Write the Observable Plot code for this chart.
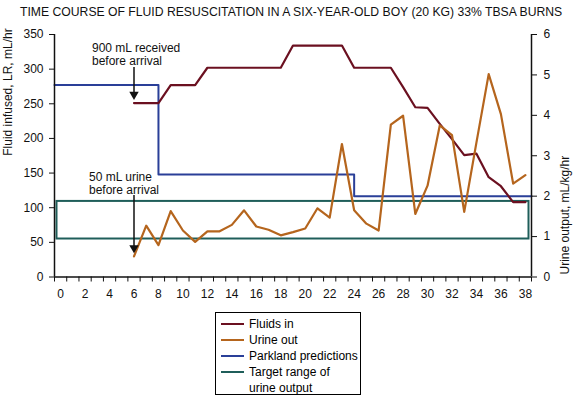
<!DOCTYPE html>
<html><head><meta charset="utf-8">
<script src="https://cdn.jsdelivr.net/npm/d3@7"></script>
<script src="https://cdn.jsdelivr.net/npm/@observablehq/plot@0.6"></script>
<style>
body{margin:0;background:#fff;font-family:"Liberation Sans",Arial,sans-serif;}
#wrap{position:relative;width:574px;height:399px;overflow:hidden;}
#title{position:absolute;left:20px;top:5px;font-size:12px;white-space:nowrap;color:#111;}
#legend{position:absolute;left:215px;top:312px;width:146px;height:83px;border:1.5px solid #000;font-size:12px;padding-top:3px;box-sizing:border-box;}
.row{height:16px;line-height:16px;display:flex;align-items:center;white-space:nowrap;}
.sw{width:23px;height:2.5px;margin-left:5px;margin-right:5px;flex:none;}
.cont{padding-left:33px;height:16px;line-height:16px;}
#chart{position:absolute;left:0;top:0;}
</style></head>
<body>
<div id="wrap">
<div id="chart"></div>
<div id="title"></div>
<div id="legend"></div>
</div>
<script>
const titleText = "TIME COURSE OF FLUID RESUSCITATION IN A SIX-YEAR-OLD BOY (20 KG) 33% TBSA BURNS";
const hourDomain = [-0.5, 38.5];
const leftTicks = [0, 50, 100, 150, 200, 250, 300, 350];
const rightTicks = [0, 1, 2, 3, 4, 5, 6];
const hourLabels = [0,2,4,6,8,10,12,14,16,18,20,22,24,26,28,30,32,34,36,38];

// Fluids in, mL/hr
const fluidHours = [6,8,9,11,12,18,19,23,24,27,28,29,30,31,32,33,34,35,36,37,38];
const fluidsIn   = [251,251,277,277,302,302,334,334,302,302,274,245,244,221,199,176,178,144,131,108,108];

// Urine out, mL/kg/hr
const urineHours = [6,7,8,9,10,11,12,13,14,15,16,17,18,19,20,21,22,23,24,25,26,27,28,29,30,31,32,33,34,35,36,37,38];
const urineOut   = [0.51,1.27,0.79,1.63,1.15,0.87,1.13,1.13,1.29,1.65,1.25,1.17,1.03,1.11,1.2,1.7,1.47,3.29,1.65,1.32,1.15,3.77,3.99,1.56,2.26,3.75,3.51,1.61,3.33,5.02,4.03,2.31,2.52];

// Parkland predictions, mL/hr (step)
const parklandHours = [-0.5, 8, 24, 38.5];
const parklandRate  = [277, 148, 116.5, 116.5];

// Target range of urine output, mL/kg/hr
const targetRange = [0.94, 1.87];

const seriesNames = ["Fluids in", "Urine out", "Parkland predictions", "Target range of\nurine output"];
const seriesColors = ["#6b1020", "#b5651d", "#2a3f98", "#1f5e5a"];

const notes = [
  {label: "900 mL received\nbefore arrival", hour: fluidHours[0], top: 302.3, tip: fluidsIn[0]},
  {label: "50 mL urine\nbefore arrival", hour: urineHours[0], top: 117.6, tip: urineOut[0] * 350 / 6}
];

const k = 350 / 6;
const fluidData = fluidHours.map((h, i) => ({h, v: fluidsIn[i]}));
const urineData = urineHours.map((h, i) => ({h, v: urineOut[i] * k}));
const parkData = parklandHours.map((h, i) => ({h, v: parklandRate[i]}));
const font = '"Liberation Sans", Arial, sans-serif';

const plot = Plot.plot({
  width: 574, height: 399,
  marginTop: 34, marginBottom: 122.5, marginLeft: 54, marginRight: 43,
  style: {fontFamily: font, fontSize: "12px", color: "#111", background: "transparent"},
  x: {domain: hourDomain},
  y: {domain: [0, 350]},
  marks: [
    Plot.rect([targetRange], {y1: d => d[0] * k, y2: d => d[1] * k, insetLeft: 2.5, insetRight: 2.5, fill: "none", stroke: seriesColors[3], strokeWidth: 2}),
    Plot.line(parkData, {x: "h", y: "v", curve: "step-after", stroke: seriesColors[2], strokeWidth: 2}),
    Plot.line(fluidData, {x: "h", y: "v", stroke: seriesColors[0], strokeWidth: 2.2}),
    Plot.line(urineData, {x: "h", y: "v", stroke: seriesColors[1], strokeWidth: 2.2}),
    Plot.ruleY([0], {stroke: "#111", strokeWidth: 1.5}),
    Plot.ruleX(hourDomain, {stroke: "#111", strokeWidth: 1.5}),
    Plot.axisX(d3.range(-0.5, 38.6, 1), {tickSize: 5, tickFormat: () => "", label: null}),
    Plot.axisX(hourLabels, {tickSize: 0, tickPadding: 12.5, label: null, fontSize: 12}),
    Plot.axisY(leftTicks, {anchor: "left", tickSize: 5, tickPadding: 6, label: null, fontSize: 12}),
    Plot.axisY(rightTicks.map(v => v * k), {anchor: "right", tickSize: 5, tickPadding: 7, tickFormat: d => String(Math.round(d / k)), label: null, fontSize: 12}),
    Plot.text(["Fluid infused, LR, mL/hr"], {frameAnchor: "left", rotate: -90, dx: -46, fontSize: 12, lineAnchor: "middle"}),
    Plot.text(["Urine output, mL/kg/hr"], {frameAnchor: "right", rotate: -90, dx: 34, fontSize: 12, lineAnchor: "middle"}),
    Plot.ruleX(notes, {x: "hour", y1: "top", y2: "tip", insetBottom: 9, stroke: "#111", strokeWidth: 1.5}),
    Plot.dot(notes, {x: "hour", y: "tip", symbol: "triangle", rotate: 180, r: 3.5, fill: "#111", stroke: "none", dy: -8.5}),
    Plot.text([notes[0]], {x: "hour", y: "top", text: "label", textAnchor: "start", lineAnchor: "middle", dx: -42, dy: -13.5, lineHeight: 1.08, fontSize: 12}),
    Plot.text([notes[1]], {x: "hour", y: "top", text: "label", textAnchor: "start", lineAnchor: "middle", dx: -45, dy: -12.6, lineHeight: 1.1, fontSize: 12})
  ]
});
document.getElementById("chart").appendChild(plot);

const title = document.getElementById("title");
title.textContent = titleText;
// fit the title to the width it spans in the reference (x 20 → 566)
const ctx = document.createElement("canvas").getContext("2d");
ctx.font = '12px "Liberation Sans", Arial, sans-serif';
const w12 = ctx.measureText(titleText).width;
const fs = Math.min(13, 12 * 545 / w12);
title.style.fontSize = fs.toFixed(2) + "px";
title.style.top = (12 - fs * 0.58).toFixed(1) + "px";

const leg = document.getElementById("legend");
seriesNames.forEach((name, i) => {
  const lines = name.split("\n");
  const row = document.createElement("div");
  row.className = "row";
  const sw = document.createElement("span");
  sw.className = "sw";
  sw.style.background = seriesColors[i];
  const t = document.createElement("span");
  t.textContent = lines[0];
  row.appendChild(sw); row.appendChild(t);
  leg.appendChild(row);
  lines.slice(1).forEach(l => {
    const c = document.createElement("div");
    c.className = "cont";
    c.textContent = l;
    leg.appendChild(c);
  });
});
</script>
</body></html>
